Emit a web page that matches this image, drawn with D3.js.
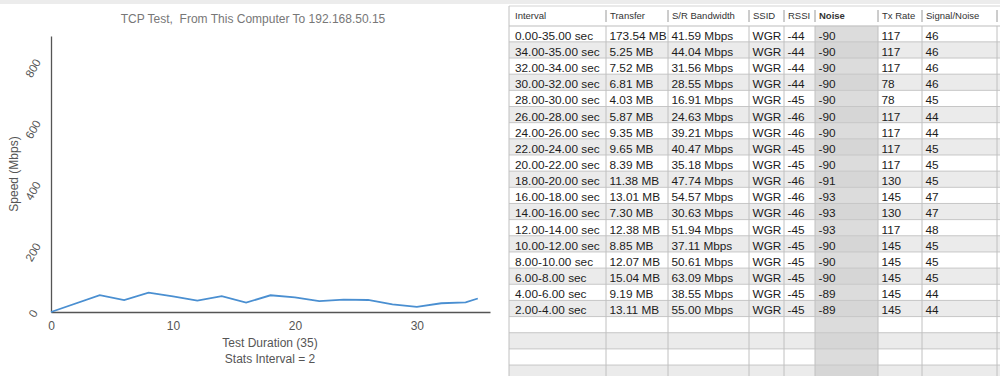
<!DOCTYPE html>
<html>
<head>
<meta charset="utf-8">
<script src="https://cdn.jsdelivr.net/npm/d3@7"></script>
<style>
  body { margin: 0; background: #fff; }
  svg { display: block; font-family: "Liberation Sans", Arial, Helvetica, sans-serif; }
  text { white-space: pre; }
</style>
</head>
<body>
<div class="chart"></div>
<script>
// ---- data ----
var chartTime = [0, 4, 6, 8, 10, 12, 14, 16, 18, 20, 22, 24, 26, 28, 30, 32, 34, 35];
var chartSpeed = [0, 55.00, 38.55, 63.09, 50.61, 37.11, 51.94, 30.63, 54.57, 47.74,
                  35.18, 40.47, 39.21, 24.63, 16.91, 28.55, 31.56, 44.04];
var xTicks = [0, 10, 20, 30];
var yTicks = [0, 200, 400, 600, 800];

var headers = ["Interval", "Transfer", "S/R Bandwidth", "SSID", "RSSI", "Noise", "Tx Rate", "Signal/Noise"];
var intervals = ["0.00-35.00 sec", "34.00-35.00 sec", "32.00-34.00 sec", "30.00-32.00 sec", "28.00-30.00 sec",
                 "26.00-28.00 sec", "24.00-26.00 sec", "22.00-24.00 sec", "20.00-22.00 sec", "18.00-20.00 sec",
                 "16.00-18.00 sec", "14.00-16.00 sec", "12.00-14.00 sec", "10.00-12.00 sec", "8.00-10.00 sec",
                 "6.00-8.00 sec", "4.00-6.00 sec", "2.00-4.00 sec"];
var transfer = ["173.54 MB", "5.25 MB", "7.52 MB", "6.81 MB", "4.03 MB", "5.87 MB", "9.35 MB", "9.65 MB",
                "8.39 MB", "11.38 MB", "13.01 MB", "7.30 MB", "12.38 MB", "8.85 MB", "12.07 MB", "15.04 MB",
                "9.19 MB", "13.11 MB"];
var bandwidth = ["41.59 Mbps", "44.04 Mbps", "31.56 Mbps", "28.55 Mbps", "16.91 Mbps", "24.63 Mbps",
                 "39.21 Mbps", "40.47 Mbps", "35.18 Mbps", "47.74 Mbps", "54.57 Mbps", "30.63 Mbps",
                 "51.94 Mbps", "37.11 Mbps", "50.61 Mbps", "63.09 Mbps", "38.55 Mbps", "55.00 Mbps"];
var ssid = intervals.map(function() { return "WGR"; });
var rssi = [-44, -44, -44, -44, -45, -46, -46, -45, -45, -46, -46, -46, -45, -45, -45, -45, -45, -45];
var noise = [-90, -90, -90, -90, -90, -90, -90, -90, -90, -91, -93, -93, -93, -90, -90, -90, -89, -89];
var txRate = [117, 117, 117, 78, 78, 117, 117, 117, 117, 130, 145, 130, 117, 145, 145, 145, 145, 145];
var snr = [46, 46, 46, 46, 45, 44, 44, 45, 45, 45, 47, 47, 48, 45, 45, 45, 44, 44];
var emptyRows = 4;

// ---- layout ----
var svgWidth = 1000;
var svgHeight = 376;

var svg = d3.select(".chart")
  .append("svg")
  .attr("width", svgWidth)
  .attr("height", svgHeight);

// thin window band at the top
svg.append("rect")
  .attr("x", 0).attr("y", 0)
  .attr("width", svgWidth).attr("height", 4)
  .attr("fill", "#ececec");

// ---- line chart ----
var xScale = d3.scaleLinear().domain([0, 36]).range([51, 490]);
var yScale = d3.scaleLinear().domain([0, 900]).range([312, 36]);

var chartGroup = svg.append("g");

chartGroup.append("text")
  .attr("x", 253)
  .attr("y", 23)
  .attr("text-anchor", "middle")
  .attr("font-size", 12)
  .attr("fill", "#777")
  .text("TCP Test,  From This Computer To 192.168.50.15");

var bottomAxis = d3.axisBottom(xScale).tickValues(xTicks).tickSize(0).tickPadding(9);
var leftAxis = d3.axisLeft(yScale).tickValues(yTicks).tickSize(0);

var xAxis = chartGroup.append("g")
  .attr("transform", "translate(0,312)")
  .call(bottomAxis);
xAxis.selectAll("text").attr("font-size", 12).attr("fill", "#555");

var yAxis = chartGroup.append("g")
  .attr("transform", "translate(51,0)")
  .call(leftAxis);
yAxis.selectAll("text")
  .attr("x", null)
  .attr("dy", "0.35em")
  .attr("text-anchor", "middle")
  .attr("transform", "translate(-18,1) rotate(-60)")
  .attr("font-size", 11.5)
  .attr("fill", "#555");

chartGroup.selectAll(".domain")
  .attr("stroke", "#555")
  .attr("stroke-width", 1.3);

var speedLine = d3.line()
  .x(function(d, i) { return xScale(chartTime[i]); })
  .y(function(d) { return yScale(d); });

chartGroup.append("path")
  .datum(chartSpeed)
  .attr("d", speedLine)
  .attr("fill", "none")
  .attr("stroke", "#4a8fd1")
  .attr("stroke-width", 1.8);

chartGroup.append("text")
  .attr("transform", "translate(18,174) rotate(-90)")
  .attr("text-anchor", "middle")
  .attr("font-size", 12)
  .attr("fill", "#555")
  .text("Speed (Mbps)");

chartGroup.append("text")
  .attr("x", 270).attr("y", 347)
  .attr("text-anchor", "middle")
  .attr("font-size", 12)
  .attr("fill", "#555")
  .text("Test Duration (35)");

chartGroup.append("text")
  .attr("x", 270).attr("y", 363)
  .attr("text-anchor", "middle")
  .attr("font-size", 12)
  .attr("fill", "#555")
  .text("Stats Interval = 2");

// ---- table ----
var colEdges = [509, 606, 668, 749, 784, 815, 878, 922, 997];
var tableRight = 1000;
var headerTop = 6;
var headerBottom = 26;
var rowHeight = 16.16;
var sortedCol = 5;

var rows = intervals.map(function(d, i) {
  return [d, transfer[i], bandwidth[i], ssid[i], rssi[i], noise[i], txRate[i], snr[i]];
});
var totalRows = rows.length + emptyRows;

var rowY = d3.scaleLinear().domain([0, 1]).range([25.7, 25.7 + rowHeight]);

var tableGroup = svg.append("g");

// header
tableGroup.append("rect")
  .attr("x", colEdges[0]).attr("y", headerTop)
  .attr("width", tableRight - colEdges[0]).attr("height", headerBottom - headerTop)
  .attr("fill", "#fff");

// row backgrounds
var rowIdx = d3.range(totalRows);
tableGroup.selectAll(".rowbg")
  .data(rowIdx)
  .enter()
  .append("rect")
  .attr("x", colEdges[0])
  .attr("y", function(i) { return rowY(i); })
  .attr("width", tableRight - colEdges[0])
  .attr("height", rowHeight)
  .attr("fill", function(i) { return i % 2 ? "#ebebeb" : "#fff"; });

// sorted column shading
tableGroup.selectAll(".sortbg")
  .data(rowIdx)
  .enter()
  .append("rect")
  .attr("x", colEdges[sortedCol])
  .attr("y", function(i) { return rowY(i); })
  .attr("width", colEdges[sortedCol + 1] - colEdges[sortedCol])
  .attr("height", rowHeight)
  .attr("fill", function(i) { return i % 2 ? "#d6d6d6" : "#dcdcdc"; });

// horizontal grid lines
tableGroup.selectAll(".hline")
  .data(d3.range(1, totalRows))
  .enter()
  .append("line")
  .attr("x1", colEdges[0]).attr("x2", tableRight)
  .attr("y1", function(i) { return rowY(i); })
  .attr("y2", function(i) { return rowY(i); })
  .attr("stroke", "#c6c6c6")
  .attr("stroke-width", 1);

tableGroup.append("line")
  .attr("x1", colEdges[0]).attr("x2", tableRight)
  .attr("y1", headerTop).attr("y2", headerTop)
  .attr("stroke", "#d4d4d4");
tableGroup.append("line")
  .attr("x1", colEdges[0]).attr("x2", tableRight)
  .attr("y1", headerBottom).attr("y2", headerBottom)
  .attr("stroke", "#bdbdbd");

// vertical grid lines in body
tableGroup.selectAll(".vline")
  .data(colEdges)
  .enter()
  .append("line")
  .attr("x1", function(d) { return d; })
  .attr("x2", function(d) { return d; })
  .attr("y1", function(d, i) { return i === 0 ? headerTop : headerBottom; })
  .attr("y2", svgHeight)
  .attr("stroke", "#c0c0c0");

// header separators
tableGroup.selectAll(".hsep")
  .data(colEdges.slice(1))
  .enter()
  .append("line")
  .attr("x1", function(d) { return d; })
  .attr("x2", function(d) { return d; })
  .attr("y1", 10).attr("y2", 22)
  .attr("stroke", "#9a9a9a");

// header labels
tableGroup.selectAll(".htext")
  .data(headers)
  .enter()
  .append("text")
  .attr("x", function(d, i) { return colEdges[i] + (i === 0 ? 6 : 4); })
  .attr("y", 19)
  .attr("font-size", 9.5)
  .attr("font-weight", function(d, i) { return i === sortedCol ? "bold" : "normal"; })
  .attr("fill", "#333")
  .text(function(d) { return d; });

// cells
var rowGroups = tableGroup.selectAll(".row")
  .data(rows)
  .enter()
  .append("g")
  .attr("transform", function(d, i) { return "translate(0," + (rowY(i) + 14) + ")"; });

rowGroups.selectAll("text")
  .data(function(d) { return d; })
  .enter()
  .append("text")
  .attr("x", function(d, i) { return colEdges[i] + (i === 0 ? 6 : 3.5); })
  .attr("font-size", 11.8)
  .attr("fill", "#1c1c1c")
  .text(function(d) { return d; });
</script>
</body>
</html>
